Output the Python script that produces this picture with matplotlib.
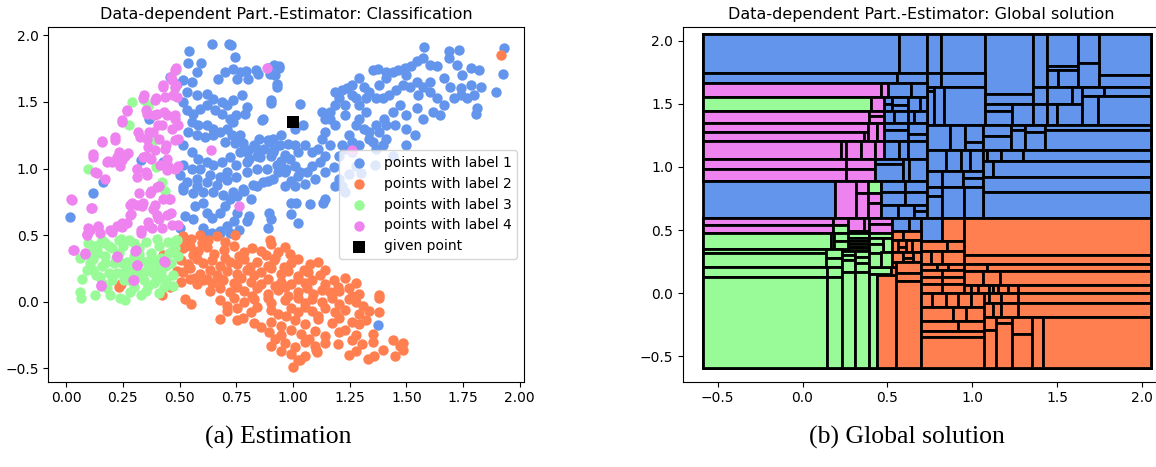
import matplotlib
matplotlib.use("Agg")
import matplotlib.pyplot as plt
from matplotlib.patches import Rectangle

COLORS = {1: "cornflowerblue", 2: "coral", 3: "palegreen", 4: "violet"}

# ---------------------------------------------------------------------------
# Scatter data
# ---------------------------------------------------------------------------

label1_pts = [
    (0.641, 1.938), (0.719, 1.938), (0.725, 1.925), (0.541, 1.88), (0.744, 1.838),
    (0.594, 1.795), (0.538, 1.79), (0.795, 1.73), (0.766, 1.725), (0.737, 1.75),
    (0.70, 1.725), (0.67, 1.675), (0.752, 1.675), (0.803, 1.675), (0.847, 1.713),
    (0.898, 1.713), (0.94, 1.755), (0.92, 1.70), (0.928, 1.613), (0.904, 1.495),
    (0.862, 1.363), (0.575, 1.725), (0.553, 1.65), (0.516, 1.663), (0.487, 1.638),
    (0.458, 1.688),
    (0.531, 1.576), (0.575, 1.55), (0.619, 1.563), (0.649, 1.525), (0.685, 1.50),
    (0.707, 1.475), (0.737, 1.513), (0.774, 1.55), (0.796, 1.463), (0.788, 1.413),
    (0.751, 1.40), (0.722, 1.375), (0.685, 1.413), (0.656, 1.438), (0.619, 1.475),
    (0.59, 1.45), (0.56, 1.413), (0.531, 1.438), (0.516, 1.50), (0.553, 1.35),
    (0.582, 1.325), (0.619, 1.325), (0.649, 1.30), (0.678, 1.275), (0.707, 1.30),
    (0.737, 1.35), (0.538, 1.275), (0.575, 1.25), (0.612, 1.238), (0.649, 1.25),
    (0.729, 1.25), (0.766, 1.25), (0.781, 1.188), (0.744, 1.188), (0.70, 1.20),
    (0.516, 1.175), (0.553, 1.125), (0.582, 1.075), (0.619, 1.05), (0.649, 1.025),
    (0.685, 1.05), (0.722, 1.088), (0.766, 1.125), (0.803, 1.138), (0.84, 1.15),
    (0.899, 1.20), (0.943, 1.175), (0.965, 1.10), (0.913, 1.125), (0.854, 1.088),
    (0.796, 1.05), (0.751, 1.025), (0.707, 0.975), (0.678, 0.938), (0.634, 0.95),
    (0.59, 1.00), (0.553, 1.00), (0.516, 1.025), (0.502, 0.95), (0.531, 0.90),
    (0.575, 0.925), (0.619, 0.90), (0.663, 0.875), (0.707, 0.913), (0.751, 0.938),
    (0.796, 0.975), (0.84, 1.00), (0.884, 1.00), (0.928, 1.025), (0.965, 0.975),
    (0.913, 0.925), (0.869, 0.90), (0.825, 0.875), (0.781, 0.85), (0.737, 0.825),
    (0.693, 0.80), (0.649, 0.825), (0.604, 0.825), (0.56, 0.813), (0.516, 0.838),
    (0.515, 0.858), (0.575, 0.87), (0.604, 0.744), (0.567, 0.719), (0.522, 0.643),
    (0.56, 0.618), (0.619, 0.669), (0.642, 0.631), (0.679, 0.669), (0.701, 0.719),
    (0.724, 0.769), (0.754, 0.795), (0.784, 0.832), (0.813, 0.769), (0.843, 0.87),
    (0.888, 0.908), (0.933, 0.971), (0.97, 0.996), (1.007, 1.022), (1.03, 0.971),
    (0.806, 0.643), (0.799, 0.605), (0.754, 0.669), (0.739, 0.605), (0.709, 0.568),
    (0.679, 0.517), (0.642, 0.517), (0.604, 0.555), (0.724, 0.517), (0.761, 0.542),
    (0.896, 0.669), (0.903, 0.618), (0.888, 0.555), (0.993, 0.656), (1.022, 0.593),
    (0.993, 0.744), (1.015, 0.744), (1.075, 0.732), (1.142, 0.769), (1.134, 0.744),
    (1.231, 0.825), (1.216, 0.87),
    (0.836, 1.741), (0.888, 1.753), (0.918, 1.779), (0.94, 1.766), (0.93, 1.632),
    (0.903, 1.514), (0.866, 1.375), (0.851, 1.224), (0.888, 1.211), (0.828, 1.173),
    (0.799, 1.123), (0.806, 1.072), (0.843, 1.097), (0.873, 1.148), (0.91, 1.224),
    (0.948, 1.249), (0.978, 1.186), (1.007, 1.173), (1.022, 1.123), (0.985, 1.072),
    (0.948, 1.06), (0.903, 1.097), (0.918, 1.148), (1.007, 1.299), (1.03, 1.488),
    (1.045, 1.324),
    (1.052, 1.173), (1.082, 1.123), (1.112, 1.148), (1.142, 1.097), (1.119, 1.047),
    (1.082, 1.022), (1.06, 0.971), (1.022, 0.946), (0.993, 0.908), (0.963, 0.87),
    (1.007, 0.87), (1.052, 0.883), (1.097, 0.921), (1.142, 0.971), (1.179, 1.009),
    (1.201, 1.097), (1.231, 1.148), (1.261, 1.198), (1.164, 1.173), (1.127, 1.224),
    (1.142, 1.274), (1.127, 1.425), (1.164, 1.375), (1.187, 1.324), (1.216, 1.173),
    (1.246, 1.249), (1.276, 1.324), (1.291, 1.375), (1.321, 1.425), (1.313, 1.299),
    (1.336, 1.224), (1.291, 1.173), (1.261, 1.123), (1.276, 1.022), (1.246, 0.959),
    (1.201, 0.921), (1.187, 0.87),
    (1.351, 1.741), (1.373, 1.748), (1.41, 1.728), (1.44, 1.723), (1.463, 1.741),
    (1.493, 1.753), (1.522, 1.77), (1.545, 1.804), (1.575, 1.829), (1.604, 1.779),
    (1.634, 1.766), (1.664, 1.678), (1.687, 1.829), (1.724, 1.779), (1.746, 1.703),
    (1.784, 1.753), (1.821, 1.741), (1.694, 1.615), (1.739, 1.602), (1.784, 1.627),
    (1.828, 1.615), (1.799, 1.551), (1.769, 1.526), (1.739, 1.551), (1.709, 1.526),
    (1.664, 1.476), (1.634, 1.526), (1.604, 1.577), (1.575, 1.615), (1.545, 1.652),
    (1.515, 1.615), (1.485, 1.627), (1.455, 1.589), (1.425, 1.551), (1.396, 1.526),
    (1.366, 1.526), (1.381, 1.627), (1.41, 1.678), (1.604, 1.652), (1.50, 1.703),
    (1.813, 1.451), (1.806, 1.413), (1.619, 1.425), (1.649, 1.40), (1.575, 1.375),
    (1.545, 1.451), (1.50, 1.40), (1.47, 1.476), (1.44, 1.425), (1.403, 1.375),
    (1.366, 1.324), (1.336, 1.274), (1.381, 1.274), (1.41, 1.324), (1.448, 1.324),
    (1.50, 1.299), (1.537, 1.249), (1.50, 1.173), (1.44, 1.097), (1.396, 1.173),
    (1.366, 1.148), (1.351, 1.198), (1.41, 1.224), (1.239, 1.602), (1.216, 1.589),
    (1.187, 1.577), (1.201, 1.526), (1.231, 1.476), (1.291, 1.476), (1.321, 1.526),
    (1.276, 1.526), (1.261, 1.551), (1.313, 1.615), (1.261, 1.627), (1.291, 1.678),
    (1.336, 1.577), (1.231, 1.40), (1.187, 1.476), (1.164, 1.425), (1.142, 1.375),
    (1.552, 1.551), (1.896, 1.577), (1.93, 1.905), (1.927, 1.708), (1.576, 1.915),
    (1.731, 1.892), (1.69, 1.879),
    (0.015, 0.638), (0.119, 0.815), (0.164, 0.901), (0.328, 1.067), (0.366, 1.375),
    (0.425, 1.047), (1.373, -0.177), (1.30, 0.97), (1.36, 1.03), (0.50, 0.555),
    (0.63, 0.505), (0.68, 0.53),
]

label2_pts = [
    (0.515, 0.49), (0.552, 0.47), (0.59, 0.50), (0.627, 0.46), (0.664, 0.49),
    (0.746, 0.50), (0.60, 0.44), (0.54, 0.44), (0.90, 0.46), (0.70, 0.45),
    (0.515, 0.40), (0.545, 0.42), (0.582, 0.38), (0.619, 0.41), (0.694, 0.39),
    (0.739, 0.42), (0.784, 0.37), (0.821, 0.40), (0.858, 0.38), (0.903, 0.43),
    (0.933, 0.37), (0.963, 0.41), (0.985, 0.36), (0.65, 0.36), (0.56, 0.35),
    (0.76, 0.34), (0.88, 0.35), (0.92, 0.33),
    (0.507, 0.31), (0.537, 0.28), (0.575, 0.32), (0.604, 0.29), (0.642, 0.31),
    (0.679, 0.27), (0.724, 0.30), (0.754, 0.28), (0.784, 0.32), (0.843, 0.30),
    (0.888, 0.27), (0.918, 0.31), (0.993, 0.29), (1.022, 0.32), (1.075, 0.28),
    (1.112, 0.30), (0.96, 0.26), (0.81, 0.26), (0.70, 0.33), (1.05, 0.24),
    (0.515, 0.22), (0.545, 0.25), (0.59, 0.21), (0.634, 0.24), (0.664, 0.20),
    (0.709, 0.23), (0.754, 0.21), (0.799, 0.24), (0.828, 0.20), (0.858, 0.22),
    (0.903, 0.25), (0.948, 0.21), (0.978, 0.23), (1.022, 0.19), (1.067, 0.22),
    (1.119, 0.20), (1.142, 0.24), (0.57, 0.18), (0.62, 0.17), (0.69, 0.16),
    (0.507, 0.15), (0.545, 0.17), (0.575, 0.13), (0.604, 0.16), (0.642, 0.14),
    (0.679, 0.17), (0.739, 0.14), (0.769, 0.18), (0.813, 0.15), (0.858, 0.13),
    (0.888, 0.17), (0.948, 0.15), (0.993, 0.13), (1.022, 0.17), (1.052, 0.14),
    (1.082, 0.16), (1.142, 0.13), (1.179, 0.16), (1.231, 0.18), (1.276, 0.14),
    (0.92, 0.12), (1.20, 0.11),
    (0.634, 0.08), (0.679, 0.10), (0.724, 0.07), (0.754, 0.11), (0.784, 0.08),
    (0.843, 0.10), (0.888, 0.06), (0.933, 0.09), (0.963, 0.11), (1.022, 0.07),
    (1.06, 0.10), (1.09, 0.06), (1.127, 0.09), (1.164, 0.07), (1.201, 0.08),
    (1.246, 0.10), (1.291, 0.06), (1.26, 0.04), (0.82, 0.04), (0.98, 0.04),
    (0.522, 0.02), (0.679, 0.01), (0.739, 0.03), (0.784, 0.00), (0.828, 0.02),
    (0.888, 0.03), (0.903, -0.01), (0.963, 0.01), (1.022, 0.03), (1.052, -0.01),
    (1.082, 0.02), (1.127, 0.00), (1.172, 0.03), (1.201, -0.02), (1.246, 0.02),
    (1.276, 0.00), (1.381, 0.05), (1.38, 0.03), (0.71, -0.03), (1.31, -0.03),
    (0.552, -0.02), (0.709, -0.07), (0.754, -0.05), (0.813, -0.08), (0.843, -0.04),
    (0.903, -0.06), (0.933, -0.09), (0.993, -0.05), (1.022, -0.08), (1.052, -0.04),
    (1.082, -0.07), (1.142, -0.05), (1.187, -0.08), (1.231, -0.06), (1.291, -0.09),
    (1.336, -0.07), (1.381, -0.08), (0.97, -0.11), (1.11, -0.11),
    (0.679, -0.13), (0.754, -0.14), (0.828, -0.16), (0.903, -0.15), (0.948, -0.18),
    (1.007, -0.14), (1.052, -0.17), (1.112, -0.13), (1.172, -0.16), (1.201, -0.12),
    (1.261, -0.15), (1.291, -0.17), (1.321, -0.14), (0.86, -0.19), (0.78, -0.12),
    (0.896, -0.23), (0.948, -0.25), (0.993, -0.21), (1.037, -0.24), (1.097, -0.22),
    (1.142, -0.26), (1.201, -0.23), (1.231, -0.21), (1.276, -0.25), (1.351, -0.24),
    (1.07, -0.28), (0.92, -0.28),
    (0.903, -0.33), (0.963, -0.31), (1.007, -0.34), (1.052, -0.30), (1.097, -0.33),
    (1.142, -0.31), (1.261, -0.29), (1.306, -0.32), (1.351, -0.30), (1.44, -0.29),
    (1.485, -0.31), (1.47, -0.33), (1.20, -0.32),
    (0.948, -0.37), (0.993, -0.39), (1.052, -0.41), (1.104, -0.38), (1.246, -0.40),
    (1.276, -0.37), (1.358, -0.41), (1.396, -0.36), (1.448, -0.41), (1.485, -0.36),
    (1.10, -0.36), (1.03, -0.44), (1.00, -0.49), (1.022, -0.44), (1.33, -0.43),
    (0.234, 0.108), (0.24, 0.13), (0.421, 0.05), (0.457, 0.108), (0.428, 0.35),
    (0.49, 0.36), (0.49, 0.23), (0.50, 0.45), (1.916, 1.854),
]

label3_pts = [
    (0.060, 0.071), (0.067, 0.030), (0.070, 0.169), (0.061, 0.328), (0.104, 0.290),
    (0.127, 0.050), (0.149, 0.189), (0.142, 0.366), (0.157, 0.467), (0.194, 0.050),
    (0.187, 0.214), (0.209, 0.290), (0.231, 0.366), (0.239, 0.025), (0.258, 0.013),
    (0.276, 0.164), (0.284, 0.265), (0.276, 0.467), (0.321, 0.404), (0.336, 0.303),
    (0.343, 0.164), (0.351, 0.083), (0.388, 0.139), (0.410, 0.063), (0.418, 0.214),
    (0.440, 0.265), (0.455, 0.366), (0.478, 0.404), (0.493, 0.341), (0.485, 0.467),
    (0.410, 0.416), (0.373, 0.366), (0.321, 0.214), (0.231, 0.467), (0.187, 0.416),
    (0.142, 0.429), (0.119, 0.416), (0.097, 0.441), (0.090, 0.240), (0.119, 0.240),
    (0.157, 0.265), (0.201, 0.164), (0.224, 0.214), (0.246, 0.290), (0.299, 0.341),
    (0.366, 0.265), (0.396, 0.315), (0.463, 0.290), (0.470, 0.202), (0.440, 0.164),
    (0.381, 0.214), (0.299, 0.114), (0.254, 0.164), (0.157, 0.139), (0.127, 0.366),
    (0.104, 0.366), (0.172, 0.341),
    (0.20, 0.40), (0.25, 0.42), (0.30, 0.44), (0.35, 0.45), (0.40, 0.47),
    (0.45, 0.45), (0.22, 0.33), (0.27, 0.30), (0.32, 0.36), (0.37, 0.31),
    (0.42, 0.33), (0.47, 0.39), (0.17, 0.29), (0.12, 0.32), (0.13, 0.20),
    (0.18, 0.10), (0.26, 0.23), (0.30, 0.20), (0.35, 0.23), (0.40, 0.17),
    (0.43, 0.11), (0.47, 0.12), (0.28, 0.07), (0.33, 0.05), (0.36, 0.12),
    (0.41, 0.26), (0.44, 0.30), (0.49, 0.46), (0.17, 0.44), (0.24, 0.47),
    (0.097, 1.0), (0.275, 1.324), (0.343, 1.514), (0.388, 1.211), (0.396, 1.009),
    (0.422, 0.901), (0.437, 0.833), (0.485, 1.741), (0.478, 1.602), (0.36, 1.47),
    (0.29, 1.50),
]

label4_pts = [
    (0.022, 0.775), (0.034, 0.391), (0.085, 0.361), (0.093, 0.505), (0.104, 0.542),
    (0.112, 0.706), (0.119, 1.110), (0.127, 0.971), (0.139, 0.568), (0.149, 0.517),
    (0.157, 1.203), (0.172, 0.921), (0.184, 1.060), (0.194, 0.542), (0.216, 1.236),
    (0.224, 0.568), (0.231, 1.123), (0.239, 1.022), (0.246, 1.362), (0.246, 0.593),
    (0.269, 1.438), (0.261, 1.097), (0.284, 0.656), (0.291, 0.744), (0.313, 0.996),
    (0.318, 1.274), (0.321, 0.820), (0.336, 0.719), (0.343, 1.551), (0.351, 1.438),
    (0.351, 1.097), (0.354, 0.971), (0.366, 1.274), (0.373, 0.833), (0.381, 0.694),
    (0.396, 1.526), (0.403, 1.324), (0.410, 1.224), (0.410, 0.870), (0.425, 1.627),
    (0.433, 1.425), (0.440, 1.173), (0.448, 1.022), (0.455, 0.769), (0.463, 1.690),
    (0.470, 1.551), (0.478, 1.375), (0.485, 1.753), (0.485, 1.627), (0.493, 1.224),
    (0.493, 1.022), (0.463, 0.669), (0.410, 0.618), (0.366, 0.568), (0.328, 0.542),
    (0.388, 1.400), (0.637, 1.140), (0.761, 0.719), (0.885, 1.758), (1.261, 1.140),
    (0.306, 0.391), (0.313, 0.278), (0.299, 0.164), (0.224, 0.341), (0.154, 0.126),
    (0.433, 0.303),
    (0.479, 1.738), (0.465, 1.663), (0.479, 1.613), (0.428, 1.613), (0.487, 1.538),
    (0.435, 1.538), (0.391, 1.513), (0.340, 1.530), (0.355, 1.413), (0.399, 1.413),
    (0.443, 1.400), (0.479, 1.400), (0.494, 1.325), (0.465, 1.300), (0.421, 1.325),
    (0.384, 1.275), (0.355, 1.225), (0.325, 1.238), (0.362, 1.163), (0.391, 1.138),
    (0.435, 1.150), (0.479, 1.213), (0.443, 1.075), (0.413, 1.025), (0.376, 1.075),
    (0.340, 1.088), (0.310, 1.000), (0.274, 1.113), (0.244, 1.063), (0.222, 1.088),
    (0.200, 1.050), (0.178, 1.050), (0.119, 1.088), (0.134, 0.963), (0.156, 1.200),
    (0.215, 1.213), (0.269, 1.430), (0.244, 1.350), (0.310, 0.938), (0.355, 0.950),
    (0.399, 0.863), (0.443, 0.988), (0.479, 1.000), (0.457, 0.775), (0.369, 0.813),
    (0.340, 0.738), (0.310, 0.725), (0.391, 0.725), (0.428, 0.775), (0.024, 0.763),
    (0.108, 0.700), (0.281, 0.725), (0.281, 0.650), (0.399, 0.650), (0.443, 0.650),
    (0.097, 0.550), (0.141, 0.563), (0.090, 0.500), (0.200, 0.525), (0.244, 0.563),
    (0.266, 0.588), (0.332, 0.513), (0.377, 0.550), (0.421, 0.550), (0.465, 0.575),
    (0.494, 0.575), (0.406, 0.625), (0.362, 0.600), (0.031, 0.388), (0.082, 0.363),
    (0.222, 0.333), (0.303, 0.383), (0.311, 0.275), (0.435, 0.300), (0.296, 0.163),
    (0.152, 0.118),
]

given_point = (1.0, 1.35)
legend_labels = ["points with label 1", "points with label 2",
                 "points with label 3", "points with label 4"]

# ---------------------------------------------------------------------------
# Partition cells (x0, x1, y0, y1, label), drawn in order
# ---------------------------------------------------------------------------

cells_parent = [
    (-0.59, 2.055, 1.665, 2.055, 1), (0.48, 2.055, 0.595, 1.665, 1),
    (-0.59, 0.48, 0.89, 1.665, 4), (-0.59, 0.53, -0.59, 0.595, 3),
    (0.53, 2.055, -0.59, 0.595, 2),
]

cells_top = [
    (-0.59, 0.566, 1.747, 2.055, 1), (0.566, 0.735, 1.747, 2.055, 1),
    (0.735, 0.815, 1.74, 2.055, 1), (0.815, 1.078, 1.74, 2.055, 1),
    (1.078, 1.357, 1.58, 2.055, 1), (1.357, 1.44, 1.63, 2.055, 1),
    (1.44, 1.622, 1.795, 2.055, 1), (1.622, 1.75, 1.82, 2.055, 1),
    (1.75, 2.055, 1.73, 2.055, 1), (-0.59, 0.556, 1.665, 1.747, 1),
    (0.556, 0.735, 1.665, 1.747, 1), (0.735, 0.815, 1.63, 1.74, 1),
    (0.815, 1.078, 1.63, 1.74, 1), (1.44, 1.622, 1.77, 1.795, 1),
    (1.44, 1.505, 1.63, 1.77, 1), (1.505, 1.622, 1.63, 1.77, 1),
    (1.622, 1.75, 1.63, 1.82, 1), (1.75, 2.055, 1.63, 1.73, 1),
]

cells_upper = [
    (0.735, 0.777, 1.60, 1.63, 1), (0.735, 0.777, 1.33, 1.60, 1),
    (0.777, 0.835, 1.33, 1.63, 1), (0.835, 1.078, 1.33, 1.63, 1),
    (1.078, 1.357, 1.495, 1.58, 1), (1.078, 1.235, 1.445, 1.495, 1),
    (1.078, 1.235, 1.33, 1.445, 1), (1.235, 1.357, 1.33, 1.495, 1),
    (1.357, 1.44, 1.495, 1.63, 1), (1.357, 1.44, 1.33, 1.495, 1),
    (1.44, 1.59, 1.495, 1.63, 1), (1.59, 1.65, 1.495, 1.63, 1),
    (1.44, 1.50, 1.33, 1.495, 1), (1.50, 1.65, 1.33, 1.495, 1),
    (1.65, 1.78, 1.565, 1.63, 1), (1.78, 2.055, 1.565, 1.63, 1),
    (1.65, 1.745, 1.33, 1.565, 1), (1.745, 2.055, 1.33, 1.565, 1),
]

cells_left = [
    (-0.59, 0.46, 1.555, 1.665, 4), (0.46, 0.505, 1.555, 1.665, 4),
    (0.505, 0.64, 1.555, 1.665, 1), (0.64, 0.735, 1.555, 1.665, 1),
    (-0.59, 0.405, 1.445, 1.555, 3), (0.405, 0.48, 1.445, 1.555, 4),
    (0.48, 0.53, 1.50, 1.555, 1), (0.48, 0.53, 1.445, 1.50, 1),
    (0.53, 0.62, 1.49, 1.555, 1), (0.53, 0.62, 1.445, 1.49, 1),
    (0.62, 0.69, 1.445, 1.555, 1), (0.69, 0.735, 1.445, 1.555, 1),
    (-0.59, 0.39, 1.345, 1.445, 4), (0.39, 0.48, 1.40, 1.445, 4),
    (0.39, 0.48, 1.345, 1.40, 4), (0.48, 0.54, 1.345, 1.445, 1),
    (0.54, 0.62, 1.345, 1.445, 1), (0.62, 0.655, 1.345, 1.445, 1),
    (0.655, 0.735, 1.345, 1.445, 1),
    (-0.59, 0.385, 1.28, 1.345, 4), (-0.59, 0.365, 1.205, 1.28, 4),
    (0.365, 0.385, 1.205, 1.28, 4), (0.385, 0.44, 1.205, 1.345, 4),
    (0.44, 0.48, 1.205, 1.345, 4), (0.48, 0.62, 1.29, 1.345, 1),
    (0.48, 0.62, 1.205, 1.29, 1), (0.62, 0.735, 1.26, 1.345, 1),
    (0.62, 0.735, 1.205, 1.26, 1),
    (-0.59, 0.225, 1.065, 1.205, 4), (0.225, 0.255, 1.065, 1.205, 4),
    (0.255, 0.345, 1.065, 1.205, 4), (0.345, 0.425, 1.065, 1.205, 4),
    (0.425, 0.48, 1.065, 1.205, 4), (0.48, 0.57, 1.065, 1.205, 1),
    (0.57, 0.62, 1.065, 1.205, 1), (0.62, 0.735, 1.065, 1.205, 1),
    (-0.59, 0.255, 0.985, 1.065, 4), (-0.59, 0.255, 0.89, 0.985, 4),
    (0.255, 0.425, 0.985, 1.065, 4), (0.255, 0.425, 0.89, 0.985, 4),
    (0.425, 0.59, 1.02, 1.065, 1), (0.425, 0.59, 0.89, 1.02, 1),
    (0.59, 0.63, 0.89, 1.065, 1), (0.63, 0.735, 0.89, 1.065, 1),
    (-0.59, 0.19, 0.595, 0.89, 1), (0.19, 0.315, 0.595, 0.89, 4),
    (0.315, 0.385, 0.795, 0.89, 4), (0.315, 0.385, 0.595, 0.795, 4),
    (0.385, 0.46, 0.795, 0.89, 3), (0.385, 0.46, 0.715, 0.795, 4),
    (0.385, 0.46, 0.595, 0.715, 4), (0.46, 0.605, 0.80, 0.89, 1),
    (0.605, 0.735, 0.80, 0.89, 1), (0.46, 0.605, 0.70, 0.80, 1),
    (0.605, 0.735, 0.70, 0.80, 1), (0.46, 0.565, 0.595, 0.70, 1),
    (0.565, 0.655, 0.595, 0.70, 1), (0.655, 0.735, 0.65, 0.70, 1),
    (0.655, 0.735, 0.595, 0.65, 1),
]

cells_right_mid = [
    (0.735, 0.87, 1.135, 1.33, 1), (0.87, 0.955, 1.135, 1.33, 1),
    (0.955, 1.065, 1.20, 1.33, 1), (0.955, 1.065, 1.135, 1.20, 1),
    (1.065, 1.23, 1.245, 1.33, 1), (1.065, 1.23, 1.135, 1.245, 1),
    (1.23, 1.31, 1.29, 1.33, 1), (1.23, 1.31, 1.135, 1.29, 1),
    (1.31, 1.43, 1.28, 1.33, 1), (1.31, 1.43, 1.135, 1.28, 1),
    (1.43, 2.055, 1.29, 1.33, 1), (1.43, 2.055, 1.135, 1.29, 1),
    (0.735, 0.845, 0.97, 1.135, 1), (0.845, 0.935, 0.97, 1.135, 1),
    (0.935, 0.99, 0.97, 1.135, 1), (0.99, 1.065, 0.97, 1.135, 1),
    (1.065, 1.09, 1.045, 1.135, 1), (1.09, 1.17, 1.045, 1.135, 1),
    (1.17, 1.30, 1.045, 1.135, 1), (1.30, 2.055, 1.045, 1.135, 1),
    (1.065, 1.12, 0.92, 1.045, 1), (1.12, 2.055, 0.92, 1.045, 1),
    (0.735, 0.825, 0.84, 0.97, 1), (0.825, 0.945, 0.84, 0.97, 1),
    (0.945, 1.065, 0.915, 0.97, 1), (0.945, 1.065, 0.84, 0.915, 1),
    (1.065, 2.055, 0.80, 0.92, 1), (1.065, 2.055, 0.595, 0.80, 1),
    (0.735, 0.825, 0.77, 0.84, 1), (0.735, 0.825, 0.595, 0.77, 1),
    (0.825, 0.95, 0.595, 0.84, 1), (0.95, 1.065, 0.595, 0.84, 1),
]

cells_lower_left = [
    (-0.59, 0.18, 0.54, 0.595, 4), (0.18, 0.27, 0.54, 0.595, 4),
    (-0.59, 0.18, 0.475, 0.54, 4), (0.18, 0.27, 0.475, 0.54, 3),
    (0.27, 0.36, 0.49, 0.595, 4), (0.36, 0.39, 0.49, 0.595, 4),
    (0.27, 0.39, 0.475, 0.49, 3), (0.39, 0.53, 0.545, 0.595, 4),
    (0.39, 0.53, 0.475, 0.545, 4),
    (-0.59, 0.165, 0.35, 0.475, 3), (0.165, 0.185, 0.35, 0.475, 3),
    (0.185, 0.27, 0.415, 0.475, 3), (0.185, 0.27, 0.35, 0.415, 3),
    (0.27, 0.39, 0.44, 0.475, 3), (0.27, 0.39, 0.41, 0.44, 3),
    (0.27, 0.39, 0.39, 0.41, 3), (0.27, 0.39, 0.37, 0.39, 3),
    (0.27, 0.39, 0.355, 0.37, 3), (0.27, 0.39, 0.335, 0.355, 3),
    (0.39, 0.53, 0.435, 0.475, 3), (0.39, 0.475, 0.39, 0.435, 3),
    (0.475, 0.53, 0.33, 0.435, 3), (0.39, 0.475, 0.315, 0.39, 3),
    (-0.59, 0.14, 0.315, 0.35, 3), (-0.59, 0.14, 0.205, 0.315, 3),
    (-0.59, 0.145, 0.125, 0.205, 3), (-0.59, 0.145, -0.59, 0.125, 3),
    (0.14, 0.235, 0.28, 0.35, 3), (0.14, 0.235, 0.205, 0.28, 3),
    (0.145, 0.235, 0.125, 0.205, 3), (0.145, 0.235, -0.59, 0.125, 3),
    (0.235, 0.31, 0.30, 0.335, 3), (0.235, 0.31, 0.26, 0.30, 3),
    (0.235, 0.31, 0.17, 0.26, 3), (0.235, 0.31, -0.59, 0.17, 3),
    (0.31, 0.39, 0.29, 0.335, 3), (0.31, 0.39, 0.24, 0.29, 3),
    (0.31, 0.39, 0.17, 0.24, 3), (0.31, 0.39, -0.59, 0.17, 3),
    (0.39, 0.52, 0.15, 0.205, 3), (0.39, 0.46, 0.205, 0.315, 3),
    (0.46, 0.53, 0.205, 0.33, 3), (0.39, 0.44, -0.59, 0.15, 3),
    (0.44, 0.55, -0.59, 0.145, 2), (0.52, 0.55, 0.145, 0.205, 2),
]

cells_lower_mid = [
    (0.53, 0.63, 0.495, 0.595, 1), (0.63, 0.70, 0.495, 0.595, 1),
    (0.70, 0.825, 0.41, 0.595, 1), (0.825, 0.95, 0.41, 0.595, 2),
    (0.53, 0.59, 0.425, 0.495, 2), (0.59, 0.70, 0.425, 0.495, 2),
    (0.53, 0.56, 0.33, 0.425, 2), (0.56, 0.61, 0.37, 0.425, 2),
    (0.61, 0.645, 0.33, 0.425, 2), (0.645, 0.70, 0.33, 0.425, 2),
    (0.56, 0.61, 0.33, 0.37, 2), (0.53, 0.595, 0.25, 0.33, 2),
    (0.595, 0.65, 0.28, 0.33, 2), (0.65, 0.70, 0.25, 0.33, 2),
    (0.595, 0.65, 0.25, 0.28, 2), (0.53, 0.55, 0.205, 0.25, 2),
    (0.55, 0.70, 0.16, 0.25, 2), (0.55, 0.70, 0.10, 0.16, 2),
    (0.55, 0.70, -0.59, 0.10, 2),
    (0.70, 0.85, 0.335, 0.41, 2), (0.85, 0.95, 0.335, 0.41, 2),
    (0.70, 0.76, 0.23, 0.335, 2), (0.76, 0.82, 0.23, 0.335, 2),
    (0.82, 0.95, 0.23, 0.335, 2), (0.70, 0.79, 0.185, 0.23, 2),
    (0.79, 0.86, 0.185, 0.23, 2), (0.86, 0.95, 0.185, 0.23, 2),
    (0.70, 0.82, 0.13, 0.185, 2), (0.82, 0.95, 0.13, 0.185, 2),
    (0.70, 0.82, 0.07, 0.13, 2), (0.82, 0.95, 0.07, 0.13, 2),
    (0.70, 0.82, 0.005, 0.07, 2), (0.82, 0.95, 0.005, 0.07, 2),
]

cells_lower_right = [
    (0.95, 2.055, 0.30, 0.595, 2), (0.95, 2.055, 0.235, 0.30, 2),
    (0.95, 1.09, 0.175, 0.235, 2), (1.09, 2.055, 0.175, 0.235, 2),
    (0.95, 1.063, 0.065, 0.175, 2), (1.063, 1.165, 0.065, 0.175, 2),
    (1.165, 2.055, 0.065, 0.175, 2),
    (0.95, 0.995, 0.005, 0.065, 2), (0.995, 1.033, 0.005, 0.065, 2),
    (1.033, 1.10, 0.005, 0.065, 2), (1.10, 1.12, 0.005, 0.065, 2),
    (1.12, 1.15, 0.005, 0.065, 2), (1.15, 1.21, 0.005, 0.065, 2),
    (1.21, 1.27, 0.005, 0.065, 2), (1.27, 2.055, 0.005, 0.065, 2),
    (0.70, 0.765, -0.105, 0.005, 2), (0.765, 0.845, -0.105, 0.005, 2),
    (0.845, 0.915, -0.105, 0.005, 2), (0.915, 0.995, -0.105, 0.005, 2),
    (0.995, 1.07, -0.105, 0.005, 2),
    (0.70, 0.885, -0.22, -0.105, 2), (0.885, 0.965, -0.22, -0.105, 2),
    (0.965, 1.07, -0.22, -0.105, 2),
    (0.70, 0.915, -0.30, -0.22, 2), (0.915, 1.07, -0.30, -0.22, 2),
    (0.70, 1.07, -0.345, -0.30, 2), (0.70, 1.07, -0.59, -0.345, 2),
    (1.07, 1.10, -0.075, 0.005, 2), (1.10, 1.17, -0.075, 0.005, 2),
    (1.17, 1.27, -0.075, 0.005, 2), (1.27, 2.055, -0.075, 0.005, 2),
    (1.07, 1.12, -0.185, -0.075, 2), (1.12, 1.17, -0.185, -0.075, 2),
    (1.17, 1.27, -0.185, -0.075, 2), (1.27, 2.055, -0.185, -0.075, 2),
    (1.07, 1.14, -0.29, -0.185, 2), (1.07, 1.14, -0.59, -0.29, 2),
    (1.14, 1.235, -0.235, -0.185, 2), (1.14, 1.235, -0.59, -0.235, 2),
    (1.235, 1.35, -0.32, -0.185, 2), (1.235, 1.35, -0.59, -0.32, 2),
    (1.35, 1.42, -0.59, -0.185, 2), (1.42, 2.055, -0.59, -0.185, 2),
]

left_xticks = [0.0, 0.25, 0.5, 0.75, 1.0, 1.25, 1.5, 1.75, 2.0]
yticks = [-0.5, 0.0, 0.5, 1.0, 1.5, 2.0]
right_xticks = [-0.5, 0.0, 0.5, 1.0, 1.5, 2.0]

# ---------------------------------------------------------------------------
# Figure
# ---------------------------------------------------------------------------

W, H = 1156, 467
fig = plt.figure(figsize=(W / 100, H / 100), dpi=100)

ax1 = fig.add_axes([48.3 / W, (H - 381.7) / H, 475.7 / W, 354.4 / H])
ax2 = fig.add_axes([683 / W, (H - 381.7) / H, 475.7 / W, 354.4 / H])

for lab, pts in zip([1, 2, 3, 4], [label1_pts, label2_pts, label3_pts, label4_pts]):
    xs = [p[0] for p in pts]
    ys = [p[1] for p in pts]
    ax1.scatter(xs, ys, s=56, color=COLORS[lab], linewidths=0,
                label=legend_labels[lab - 1])
ax1.scatter([given_point[0]], [given_point[1]], marker="s", s=75,
            color="black", linewidths=0, label="given point")

ax1.set_xlim(-0.079, 2.019)
ax1.set_ylim(-0.60, 2.06)
ax1.set_xticks(left_xticks)
ax1.set_yticks(yticks)
ax1.set_title("Data-dependent Part.-Estimator: Classification", fontsize=11.5)
ax1.legend(loc="center right", fontsize=10)

all_cells = (cells_parent + cells_top + cells_upper + cells_left + cells_right_mid
             + cells_lower_left + cells_lower_mid + cells_lower_right)
for x0, x1, y0, y1, lab in all_cells:
    ax2.add_patch(Rectangle((x0, y0), x1 - x0, y1 - y0, facecolor=COLORS[lab],
                            edgecolor="black", linewidth=2, joinstyle="miter"))

ax2.set_xlim(-0.705, 2.10)
ax2.set_ylim(-0.70, 2.105)
ax2.set_xticks(right_xticks)
ax2.set_yticks(yticks)
ax2.set_title("Data-dependent Part.-Estimator: Global solution", fontsize=11.5)

fig.text(278.5 / W, (H - 437) / H, "(a) Estimation", ha="center", va="center",
         family="Liberation Serif", fontsize=18.5)
fig.text(907 / W, (H - 437) / H, "(b) Global solution", ha="center", va="center",
         family="Liberation Serif", fontsize=18.5)

fig.savefig("out.png", dpi=100)
